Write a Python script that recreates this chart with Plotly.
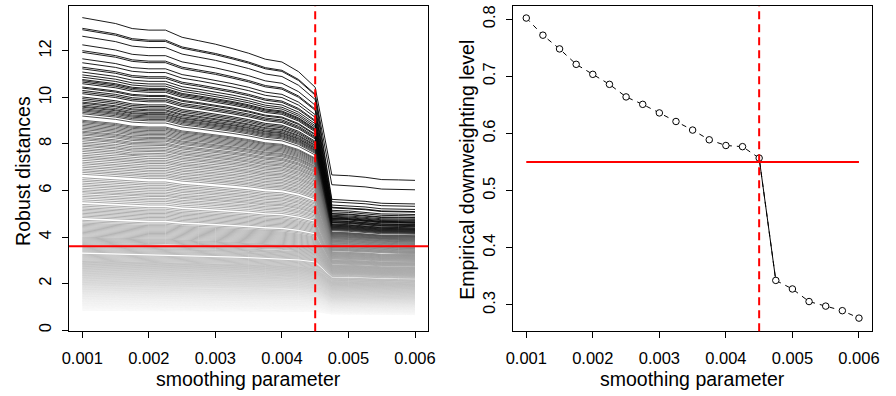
import numpy as np
import plotly.graph_objects as go

# ---------------- data ----------------
smoothing = [0.001, 0.00125, 0.0015, 0.00175, 0.002, 0.00225, 0.0025, 0.00275,
             0.003, 0.00325, 0.0035, 0.00375, 0.004, 0.00425, 0.0045, 0.00475,
             0.005, 0.00525, 0.0055, 0.00575, 0.006]

downweight = [0.802, 0.772, 0.748, 0.721, 0.7035, 0.686, 0.664, 0.651, 0.636,
              0.621, 0.606, 0.589, 0.579, 0.577, 0.557, 0.343, 0.328, 0.306,
              0.298, 0.290, 0.277]

chosen_smoothing = 0.0045
distance_cutoff = 3.6
downweight_target = 0.55

# robust distance of every observation at the smallest smoothing parameter
dist_start = [
    13.43, 12.97, 12.91, 12.63, 12.26, 12.01, 11.94, 11.66, 11.49, 11.30, 11.23,
    11.09, 10.97, 10.87, 10.77, 10.72, 10.66, 10.59, 10.45, 10.40, 10.30, 10.23,
    10.16, 10.02, 9.95, 9.88, 9.80, 9.75, 9.68, 9.62, 9.58, 9.52, 9.47, 9.42,
    9.36, 9.30, 9.20,
    9.02, 8.97, 8.92, 8.86, 8.80, 8.74, 8.68, 8.62, 8.55, 8.50, 8.44, 8.38, 8.30,
    8.24, 8.18, 8.10, 8.03,
    7.96, 7.90, 7.82, 7.75, 7.68, 7.60, 7.52, 7.45, 7.38, 7.30, 7.22, 7.15, 7.07, 7.00,
    6.92, 6.85, 6.78, 6.70, 6.55, 6.47, 6.40, 6.32, 6.25, 6.18, 6.10, 6.03,
    5.96, 5.90, 5.82, 5.75, 5.68, 5.60, 5.52, 5.40, 5.33, 5.26, 5.20, 5.14, 5.08, 5.02,
    4.96, 4.90, 4.84, 4.72, 4.66, 4.60, 4.55, 4.50, 4.45, 4.40, 4.35, 4.30, 4.25,
    4.20, 4.15, 4.10, 4.05, 4.00,
    3.96, 3.92, 3.88, 3.84, 3.80, 3.76, 3.72, 3.68, 3.64, 3.60, 3.56, 3.52, 3.48,
    3.44, 3.40, 3.36, 3.26, 3.22, 3.18, 3.14, 3.10, 3.06, 3.02,
    2.98, 2.95, 2.92, 2.89, 2.86, 2.83, 2.80, 2.77, 2.74, 2.71, 2.68, 2.65, 2.62,
    2.59, 2.56, 2.53, 2.50, 2.47, 2.44, 2.41, 2.38, 2.35, 2.32, 2.29, 2.26, 2.23,
    2.20, 2.17, 2.14, 2.11, 2.08, 2.05, 2.02, 1.99, 1.96, 1.93, 1.90, 1.87, 1.84,
    1.81, 1.78, 1.75, 1.72, 1.69, 1.66, 1.63, 1.60, 1.57, 1.54, 1.51, 1.48, 1.45,
    1.42, 1.39, 1.36, 1.33, 1.30, 1.27, 1.24, 1.21, 1.18, 1.15, 1.12, 1.09, 1.06,
    1.03, 1.00, 0.97, 0.94, 0.91, 0.88, 0.85,
]

# shape of the curves up to the chosen parameter (relative to start, top curve)
pre_ratio = [1.0, 0.9896, 0.981, 0.965, 0.960, 0.960, 0.937, 0.926, 0.915,
             0.901, 0.886, 0.867, 0.858, 0.827, 0.777]
# shape after the jump (relative to the value at 0.00475)
post_ratio = [1.0, 0.995, 0.985, 0.970, 0.968, 0.965]

# ratio (value at 0.0045)/(start) by starting level
level_knots = [0.83, 1.5, 3.0, 6.0, 9.0, 13.43]
cut_ratio_knots = [0.95, 0.93, 0.89, 0.85, 0.82, 0.777]

# value just after the jump (0.00475) by starting level
after_start_knots = [0.83, 1.5, 2.5, 3.5, 5.0, 7.0, 9.0, 11.0, 12.91, 12.97, 13.43]
after_value_knots = [0.68, 1.1, 1.75, 2.4, 2.9, 3.5, 4.2, 4.9, 5.62, 6.25, 6.67]

# ---------------- build table ----------------
start = np.array(sorted(dist_start))
pre_r = np.array(pre_ratio)
frac = (1 - pre_r) / (1 - pre_r[-1])
cut_ratio = np.interp(start, level_knots, cut_ratio_knots)
pre = start[:, None] * (1 - (1 - cut_ratio)[:, None] * frac[None, :])
after = np.interp(start, after_start_knots, after_value_knots)
post = after[:, None] * np.array(post_ratio)[None, :]
dist = np.hstack([pre, post])

N = len(start)
FONT = "Liberation Sans, Arial, Helvetica, sans-serif"

# grey shade of a curve by its starting level (style)
shade_level = [0.85, 1.5, 2.0, 3.0, 4.0, 5.0, 6.0, 7.0, 8.0, 9.0, 9.5, 10.0, 14.0]
shade_grey = [248, 232, 214, 188, 174, 166, 156, 142, 122, 80, 40, 10, 0]

fig = go.Figure()

for i in range(N):
    g = int(round(np.interp(start[i], shade_level, shade_grey)))
    fig.add_trace(go.Scatter(
        x=smoothing, y=dist[i], mode="lines",
        line=dict(color=f"rgb({g},{g},{g})", width=0.9),
        xaxis="x", yaxis="y", hoverinfo="skip", showlegend=False))

# right panel
fig.add_trace(go.Scatter(
    x=smoothing, y=downweight, mode="lines",
    line=dict(color="black", width=1, dash="5px,5px"),
    xaxis="x2", yaxis="y2", hoverinfo="skip", showlegend=False))
fig.add_trace(go.Scatter(
    x=smoothing[14:16], y=downweight[14:16], mode="lines",
    line=dict(color="black", width=1),
    xaxis="x2", yaxis="y2", hoverinfo="skip", showlegend=False))
fig.add_trace(go.Scatter(
    x=smoothing, y=downweight, mode="markers",
    marker=dict(symbol="circle", size=6.5, color="white",
                line=dict(color="black", width=1)),
    xaxis="x2", yaxis="y2", showlegend=False))

W, H = 896, 396
ydom = [1 - 332 / H, 1 - 5 / H]
xticks = [0.001, 0.002, 0.003, 0.004, 0.005, 0.006]
xticktext = ["0.001", "0.002", "0.003", "0.004", "0.005", "0.006"]

axis_common = dict(showline=True, mirror=True, linecolor="black", linewidth=1,
                   ticks="outside", ticklen=6, tickwidth=1, tickcolor="black",
                   showgrid=False, zeroline=False,
                   tickfont=dict(family=FONT, size=16.5, color="black"))

fig.update_layout(
    width=W, height=H, margin=dict(l=0, r=0, t=0, b=0),
    paper_bgcolor="white", plot_bgcolor="white", showlegend=False,
    xaxis=dict(domain=[63 / W, 428 / W], range=[0.0008, 0.0062], anchor="y",
               tickvals=xticks, ticktext=xticktext, ticklabelstandoff=6,
               **axis_common),
    yaxis=dict(domain=ydom, range=[-0.05, 13.93], anchor="x",
               tickvals=[0, 2, 4, 6, 8, 10, 12], tickangle=-90,
               ticklabelstandoff=4, **axis_common),
    xaxis2=dict(domain=[514 / W, 879 / W], range=[0.0008, 0.0062], anchor="y2",
                tickvals=xticks, ticktext=xticktext, ticklabelstandoff=6,
                **axis_common),
    yaxis2=dict(domain=ydom, range=[0.2539, 0.8231], anchor="x2",
                tickvals=[0.3, 0.4, 0.5, 0.6, 0.7, 0.8],
                ticktext=["0.3", "0.4", "0.5", "0.6", "0.7", "0.8"],
                tickangle=-90, ticklabelstandoff=4, **axis_common),
)

red = "#ff0000"
fig.add_shape(type="line", xref="x", yref="y domain", x0=chosen_smoothing,
              x1=chosen_smoothing, y0=0, y1=1,
              line=dict(color=red, width=2, dash="8px,5px"))
fig.add_shape(type="line", xref="x domain", yref="y", x0=0, x1=1,
              y0=distance_cutoff, y1=distance_cutoff,
              line=dict(color=red, width=2))
fig.add_shape(type="line", xref="x2", yref="y2 domain", x0=chosen_smoothing,
              x1=chosen_smoothing, y0=0, y1=1,
              line=dict(color=red, width=2, dash="8px,5px"))
fig.add_shape(type="line", xref="x2", yref="y2", x0=smoothing[0],
              x1=smoothing[-1], y0=downweight_target, y1=downweight_target,
              line=dict(color=red, width=2))

title_font = dict(family=FONT, size=19.5, color="black")
fig.add_annotation(text="smoothing parameter", xref="paper", yref="paper",
                   x=(63 + 428) / 2 / W, y=1 - 380 / H, showarrow=False,
                   xanchor="center", yanchor="middle", font=title_font)
fig.add_annotation(text="smoothing parameter", xref="paper", yref="paper",
                   x=(514 + 879) / 2 / W, y=1 - 380 / H, showarrow=False,
                   xanchor="center", yanchor="middle", font=title_font)
fig.add_annotation(text="Robust distances", xref="paper", yref="paper",
                   x=16 / W, y=1 - 171 / H, showarrow=False, textangle=-90,
                   xanchor="center", yanchor="middle", font=title_font)
fig.add_annotation(text="Empirical downweighting level", xref="paper", yref="paper",
                   x=467 / W, y=1 - 170 / H, showarrow=False, textangle=-90,
                   xanchor="center", yanchor="middle", font=title_font)

fig.write_html("out.html")
